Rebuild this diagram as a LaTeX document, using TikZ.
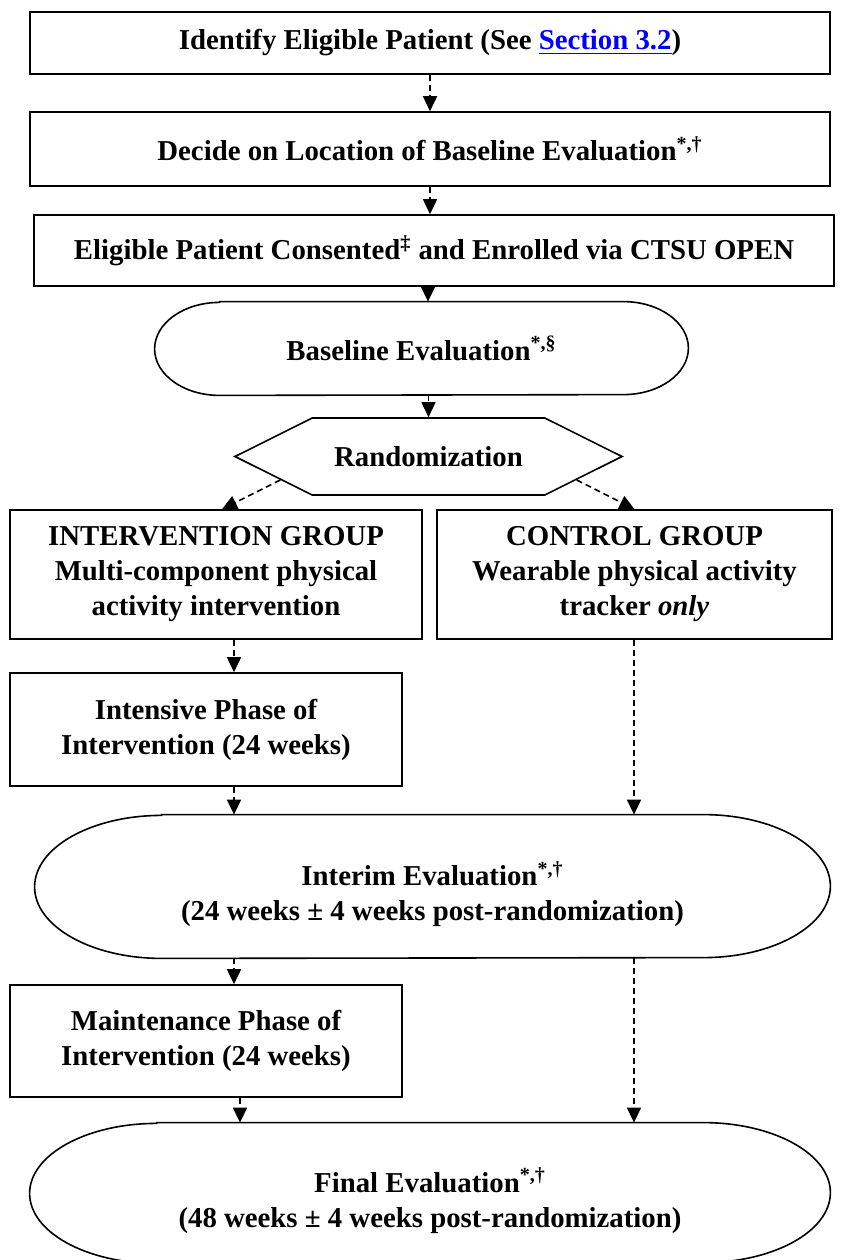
\documentclass[tikz,border=0pt]{standalone}
\usepackage{fontspec}
\setmainfont{Liberation Serif}
\usepackage{tikz}
\usetikzlibrary{calc}
\usetikzlibrary{arrows.meta, shapes.symbols}

\tikzset{
  box/.style={draw, line width=0.8pt, align=center, inner sep=2pt},
  pill/.style={align=center, inner sep=0pt},
  flow/.style={dash pattern=on 3pt off 2pt, line width=0.8pt},
}

% outline with elliptic ends around a named node
\newcommand{\pilldraw}[3]{%
  \draw[line width=0.8pt] ($(#1.north west)+(#2,0)$) -- ($(#1.north east)+(-#2,0)$)
    arc[start angle=90, end angle=-90, x radius=#2, y radius=#3]
    -- ($(#1.south west)+(#2,0)$)
    arc[start angle=270, end angle=90, x radius=#2, y radius=#3] -- cycle;}

\begin{document}
\begin{tikzpicture}[x=0.5pt, y=-0.5pt, >={Triangle[length=7.5pt,width=7pt]},
  font=\bfseries\fontsize{14.4}{17.5}\selectfont]
  \useasboundingbox (0,0) rectangle (842,1260);
  \coordinate (mc) at (430,0);
  \coordinate (lc) at (234,0);
  \coordinate (rc) at (634,0);

  \node[box, minimum width=400pt, minimum height=31pt]   (ident)   at (430,43)
    {Identify Eligible Patient (See \textcolor{blue}{\underline{Section 3.2}})};
  \node[box, minimum width=400pt, minimum height=37pt]   (decide)  at (430,149)
    {Decide on Location of Baseline Evaluation\textsuperscript{*,\textdagger}};
  \node[box, minimum width=400pt, minimum height=35.5pt] (consent) at (434,250.5)
    {Eligible Patient Consented\textsuperscript{\textdaggerdbl} and Enrolled via CTSU OPEN};
  \node[pill, minimum width=266.5pt, minimum height=46.5pt] (base) at (421.5,348.5)
    {Baseline Evaluation\textsuperscript{*,\S}};
  \node[signal, signal to=west and east, signal pointer angle=53, draw, line width=0.8pt,
    minimum width=193.5pt, minimum height=38.5pt, inner sep=0pt] (rand) at (428.5,456.5)
    {Randomization};
  \node[box, minimum width=206pt, minimum height=64.5pt]   (interv)  at (216,574.5)
    {INTERVENTION GROUP\\ Multi-component physical\\ activity intervention};
  \node[box, minimum width=197.5pt, minimum height=64.5pt] (control) at (634.5,574.5)
    {CONTROL GROUP\\ Wearable physical activity\\ tracker \textit{only}};
  \node[box, minimum width=196pt, minimum height=56.5pt]   (intens)  at (206,729.5)
    {Intensive Phase of\\ Intervention (24 weeks)};
  \node[pill, minimum width=397.5pt, minimum height=71.5pt] (interim) at (432.5,886.5)
    {\rule{0pt}{20pt}Interim Evaluation\textsuperscript{*,\textdagger}\\ (24 weeks ± 4 weeks post-randomization)};
  \node[box, minimum width=196pt, minimum height=56pt]     (maint)   at (206,1041)
    {Maintenance Phase of\\ Intervention (24 weeks)};
  \node[pill, minimum width=400pt, minimum height=70pt]    (final)   at (430,1193)
    {\rule{0pt}{20pt}Final Evaluation\textsuperscript{*,\textdagger}\\ (48 weeks ± 4 weeks post-randomization)};

  \pilldraw{base}{32.5pt}{23.25pt}
  \pilldraw{interim}{63.5pt}{35.75pt}
  \pilldraw{final}{63.5pt}{35pt}

  \path[->, flow]
        (ident.south -| mc) edge (decide.north -| mc)
        (decide.south -| mc) edge (consent.north -| mc)
        ([xshift=-3pt]consent.south) edge ([xshift=-3pt]consent.south |- base.north)
        ([xshift=3.5pt]base.south) edge ([xshift=3.5pt]base.south |- rand.north)
        (rand.189) edge ([xshift=3pt]interv.north)
        (rand.-9) edge (control.north)
        (interv.south -| lc) edge (intens.north -| lc)
        (intens.south -| lc) edge (interim.north -| lc)
        (interim.south -| lc) edge (maint.north -| lc)
        ([xshift=3pt]maint.south -| lc) edge ([xshift=3pt]final.north -| lc)
        (control.south -| rc) edge (interim.north -| rc)
        (interim.south -| rc) edge (final.north -| rc);
\end{tikzpicture}
\end{document}
